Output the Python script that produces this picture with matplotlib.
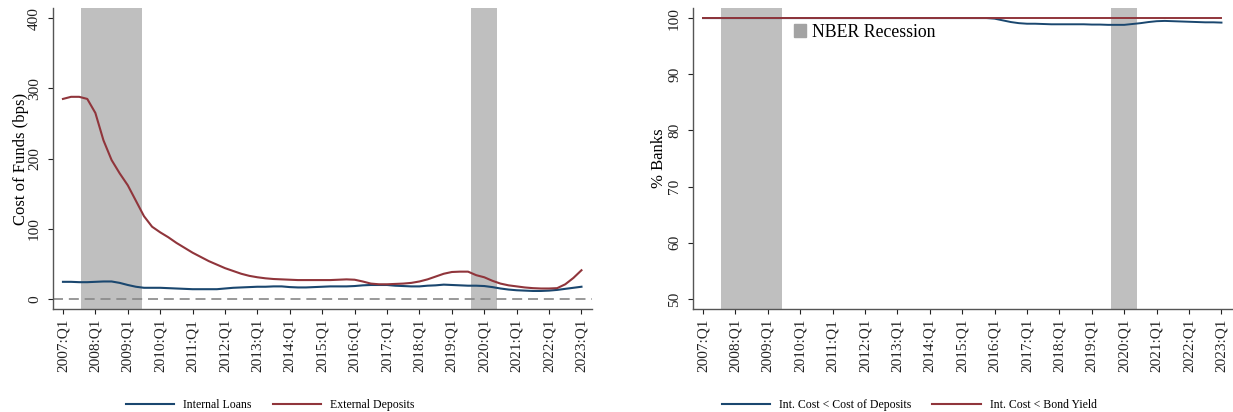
import numpy as np
import matplotlib
matplotlib.use("Agg")
import matplotlib.pyplot as plt
from matplotlib.patches import Patch
from matplotlib.lines import Line2D

plt.rcParams['font.family'] = ['Liberation Serif', 'DejaVu Serif']

# quarterly sample 2007:Q1 .. 2023:Q1
n_q = 65
quarters = 2007 + np.arange(n_q) / 4.0
years = list(range(2007, 2024))
tick_labels = [f"{y}:Q1" for y in years]

# NBER recession windows (in years)
recessions = [(2007.55, 2009.43), (2019.60, 2020.40)]

# cost of funds, bps
internal_loans = [24.5, 24.5, 24, 24, 24.5, 25, 25, 23, 20, 17.5,
                  16, 16, 16, 15.5, 15, 14.5, 14, 14, 14, 14,
                  15, 16, 16.5, 17, 17.5, 17.5, 18, 18, 17, 16.5,
                  16.5, 17, 17.5, 18, 18, 18, 18.5, 19.5, 20, 20,
                  20, 19, 18.5, 18, 18, 19, 19.5, 20.5, 20, 19.5,
                  19, 19, 18.5, 17, 15, 13.5, 12.5, 12, 11.5, 11.5,
                  12, 13, 14.5, 16, 17.5]
external_deposits = [285, 288, 288, 285, 265, 226, 198, 179, 162, 140,
                     118, 103, 95, 88, 80, 73, 66, 60, 54, 49,
                     44, 40, 36, 33, 31, 29.5, 28.5, 28, 27.5, 27,
                     27, 27, 27, 27, 27.5, 28, 27.5, 25, 22, 21,
                     21, 21.5, 22, 23, 25, 28, 32, 36, 38.5, 39,
                     39, 34, 31, 26, 22, 19.5, 18, 16.5, 15.5, 15,
                     15, 15.5, 21, 30, 41]

# share of banks (%)
cost_below_deposits = [100] * 36 + [99.9, 99.6, 99.3, 99.1, 99.0, 99.0, 98.95, 98.9, 98.9, 98.9,
                                   98.9, 98.9, 98.85, 98.85, 98.8, 98.8, 98.8, 98.95, 99.1, 99.3,
                                   99.45, 99.5, 99.45, 99.4, 99.35, 99.3, 99.25, 99.25, 99.2]
cost_below_bond = [100] * n_q

navy = '#1a476f'
maroon = '#90353b'
shade = '#bfbfbf'

fig = plt.figure(figsize=(12.33, 4.12), dpi=100)
W, H = 1233, 412


def make_ax(x0, x1):
    return fig.add_axes([x0 / W, 1 - 309 / H, (x1 - x0) / W, 301 / H])


def style(ax):
    for s in ['top', 'right']:
        ax.spines[s].set_visible(False)
    for s in ['left', 'bottom']:
        ax.spines[s].set_color('#555555')
        ax.spines[s].set_linewidth(1.0)
    ax.set_xlim(2007 - 1.23 / 4, 2007 + 65.3 / 4)
    ax.set_xticks(years)
    ax.set_xticklabels(tick_labels, rotation=90, fontsize=11)
    ax.tick_params(axis='both', direction='out', length=3.6, width=0.8, colors='#222222')
    ax.tick_params(axis='x', pad=3.5)
    ax.tick_params(axis='y', pad=5, labelsize=11)
    for lab in ax.get_yticklabels():
        lab.set_rotation(90)
        lab.set_va('center')
    for a, b in recessions:
        ax.axvspan(a, b, color=shade, lw=0, zorder=0)


# left panel: cost of funds
ax1 = make_ax(53, 592)
ax1.set_ylim(-14.2, 414.5)
ax1.set_yticks([0, 100, 200, 300, 400])
style(ax1)
ax1.axhline(0, color='#888888', lw=1.2, dashes=(6, 3.5), zorder=1)
ax1.plot(quarters, internal_loans, color=navy, lw=1.5, zorder=3)
ax1.plot(quarters, external_deposits, color=maroon, lw=1.5, zorder=3)
ax1.set_ylabel('Cost of Funds (bps)', fontsize=12)
ax1.yaxis.set_label_coords(-0.045, 0.5)
ax1.legend([Line2D([], [], color=navy, lw=1.5), Line2D([], [], color=maroon, lw=1.5)],
           ['Internal Loans', 'External Deposits'],
           loc='center', bbox_to_anchor=(0.403, -0.319), ncol=2, frameon=False,
           fontsize=8.5, handlelength=4.1, handletextpad=0.75, columnspacing=1.8,
           borderpad=0, borderaxespad=0)

# right panel: share of banks
ax2 = make_ax(693, 1232)
ax2.set_ylim(48.2, 101.8)
ax2.set_yticks([50, 60, 70, 80, 90, 100])
style(ax2)
ax2.plot(quarters, cost_below_deposits, color=navy, lw=1.4, zorder=3)
ax2.plot(quarters, cost_below_bond, color=maroon, lw=1.4, zorder=3)
ax2.set_ylabel('% Banks', fontsize=12)
ax2.yaxis.set_label_coords(-0.049, 0.5)
nber = ax2.legend([Patch(color='#a3a3a3')], ['NBER Recession'],
                  loc='center left', bbox_to_anchor=(0.187, 0.92), frameon=False,
                  fontsize=12.8, handlelength=0.7, handleheight=0.8, handletextpad=0.3,
                  borderpad=0, borderaxespad=0)
ax2.add_artist(nber)
ax2.legend([Line2D([], [], color=navy, lw=1.5), Line2D([], [], color=maroon, lw=1.5)],
           ['Int. Cost < Cost of Deposits', 'Int. Cost < Bond Yield'],
           loc='center', bbox_to_anchor=(0.401, -0.319), ncol=2, frameon=False,
           fontsize=8.5, handlelength=4.1, handletextpad=0.75, columnspacing=1.8,
           borderpad=0, borderaxespad=0)

fig.savefig('out.png', dpi=100)
